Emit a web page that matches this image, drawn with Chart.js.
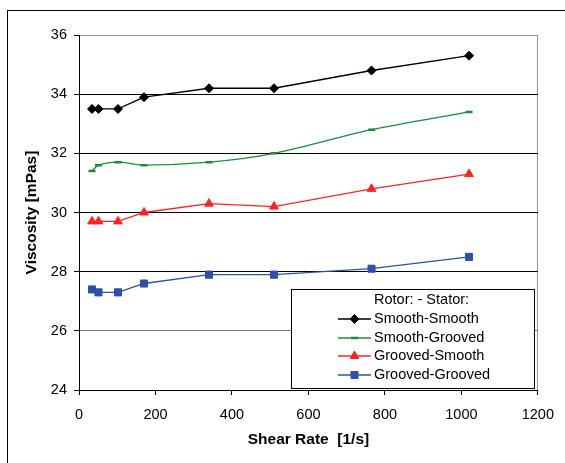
<!DOCTYPE html>
<html>
<head>
<meta charset="utf-8">
<script src="https://cdn.jsdelivr.net/npm/chart.js@4"></script>
<style>
  body { margin: 0; background: #fff; }
  #wrap { position: relative; width: 565px; height: 463px; overflow: hidden; }
  #frame { position: absolute; left: 7px; top: 10px; width: 600px; height: 500px; border: 1px solid #000; }
  canvas { position: absolute; left: 0; top: 0; }
</style>
</head>
<body>
<div id="wrap">
  <div id="frame"></div>
  <canvas id="c" width="565" height="463"></canvas>
</div>
<script>
// shear rates [1/s]
var shearRates = [34, 51, 102, 170, 340, 510, 765, 1020];

var smoothSmooth = [33.5, 33.5, 33.5, 33.9, 34.2, 34.2, 34.8, 35.3];
var smoothGrooved = [31.4, 31.6, 31.7, 31.6, 31.7, 32.0, 32.8, 33.4];
var groovedSmooth = [29.7, 29.7, 29.7, 30.0, 30.3, 30.2, 30.8, 31.3];
var groovedGrooved = [27.4, 27.3, 27.3, 27.6, 27.9, 27.9, 28.1, 28.5];

var seriesNames = ['Smooth-Smooth', 'Smooth-Grooved', 'Grooved-Smooth', 'Grooved-Grooved'];
var legendTitle = 'Rotor: - Stator:';

function toPoints(ys) {
    var pts = [];
    for (let i = 0; i < shearRates.length; i++) {
        pts.push({x: shearRates[i], y: ys[i]});
    }
    return pts;
}

var FONT = '"Liberation Sans", Arial, sans-serif';

// legend box drawn inside the plot area, like the excel one
var boxLegend = {
    id: 'boxLegend',
    afterDatasetsDraw(chart) {
        var ctx = chart.ctx;
        var x0 = 291, y0 = 289, x1 = 534, y1 = 388;
        ctx.save();
        ctx.fillStyle = '#fff';
        ctx.fillRect(x0, y0, x1 - x0, y1 - y0);
        ctx.strokeStyle = '#000';
        ctx.lineWidth = 1;
        ctx.strokeRect(x0 + 0.5, y0 + 0.5, x1 - x0, y1 - y0);

        ctx.font = '14.5px ' + FONT;
        ctx.textBaseline = 'middle';
        ctx.fillStyle = '#000';
        ctx.fillText(legendTitle, 374, 300);

        var rows = [319, 338, 356, 375];
        chart.data.datasets.forEach(function (ds, i) {
            var y = rows[i];
            ctx.strokeStyle = ds.borderColor;
            ctx.lineWidth = ds.borderWidth;
            ctx.beginPath();
            ctx.moveTo(338, y);
            ctx.lineTo(371, y);
            ctx.stroke();
            ctx.fillStyle = ds.pointBackgroundColor;
            ctx.strokeStyle = ds.pointBorderColor;
            ctx.lineWidth = ds.pointBorderWidth;
            Chart.helpers.drawPoint(ctx, {
                pointStyle: ds.pointStyle,
                radius: ds.pointRadius,
                rotation: 0,
                borderWidth: ds.pointBorderWidth
            }, 354.5, y);
            ctx.fillStyle = '#000';
            ctx.fillText(ds.label, 374, y);
        });
        ctx.restore();
    }
};

var styles = [
    {color: '#000000', point: 'rectRot', r: 4.5, pw: 1},
    {color: '#1f8a3c', point: 'line', r: 3.5, pw: 2.5},
    {color: '#ff2424', point: 'triangle', r: 5, pw: 1},
    {color: '#2f50a6', point: 'rect', r: 5, pw: 1}
];
var values = [smoothSmooth, smoothGrooved, groovedSmooth, groovedGrooved];

var datasets = [];
for (let i = 0; i < values.length; i++) {
    datasets.push({
        label: seriesNames[i],
        data: toPoints(values[i]),
        borderColor: styles[i].color,
        backgroundColor: styles[i].color,
        pointBackgroundColor: styles[i].color,
        pointBorderColor: styles[i].color,
        pointBorderWidth: styles[i].pw,
        pointStyle: styles[i].point,
        pointRadius: styles[i].r,
        borderWidth: 1.3,
        tension: i == 1 ? 0.3 : 0,
    });
}

new Chart(document.getElementById('c').getContext('2d'), {
    type: 'line',
    data: {datasets: datasets},
    options: {
        responsive: false,
        animation: false,
        layout: {padding: {left: 0, top: 35, right: 27, bottom: 0}},
        plugins: {
            legend: {display: false},
            tooltip: {enabled: false},
        },
        scales: {
            x: {
                type: 'linear',
                min: 0,
                max: 1200,
                ticks: {stepSize: 200, color: '#000', font: {family: FONT, size: 14.5}, padding: 11,
                        callback: function (v) { return String(v); }},
                grid: {
                    color: function (c) { return c.tick && c.tick.value === 1200 ? '#9a9a9a' : 'rgba(0,0,0,0)'; },
                    tickColor: '#000',
                    tickLength: 5,
                },
                border: {color: '#000', width: 1},
                title: {display: true, text: 'Shear Rate  [1/s]', color: '#000',
                        font: {family: FONT, size: 15.5, weight: 'bold'}, padding: {top: 0, bottom: 14}},
                afterFit: function (s) { s.height = 73; },
            },
            y: {
                min: 24,
                max: 36,
                ticks: {stepSize: 2, color: '#000', font: {family: FONT, size: 14.5}, padding: 7},
                grid: {
                    color: function (c) {
                        if (!c.tick) return '#000';
                        if (c.tick.value === 26) return '#7a7a7a';
                        if (c.tick.value === 36) return '#9a9a9a';
                        return '#000';
                    },
                    tickColor: '#000',
                    tickLength: 5,
                },
                border: {color: '#000', width: 1},
                title: {display: true, text: 'Viscosity [mPas]', color: '#000',
                        font: {family: FONT, size: 15.5, weight: 'bold'}, padding: {top: 22, bottom: 0}},
                afterFit: function (s) { s.width = 79; },
            },
        },
    },
    plugins: [boxLegend],
});
</script>
</body>
</html>
